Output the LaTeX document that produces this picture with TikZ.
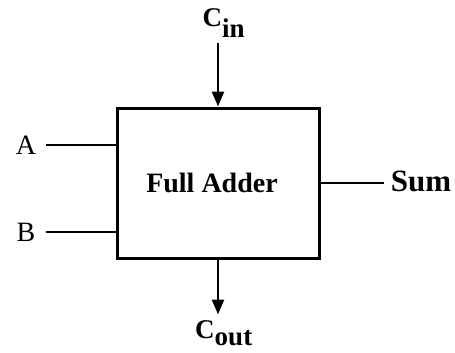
\documentclass[tikz,border=0pt]{standalone}
\usepackage{fontspec}
\setmainfont{Liberation Serif}
\usetikzlibrary{arrows.meta}

\begin{document}
\begin{tikzpicture}[x=1pt, y=-1pt,
    block/.style={draw, line width=3pt, minimum width=202pt, minimum height=150pt, inner sep=0pt, font=\bfseries\fontsize{28}{28}\selectfont},
    port/.style={inner sep=0pt, font=\fontsize{28}{28}\selectfont},
    wire/.style={line width=2.5pt},
    flow/.style={line width=2.5pt, -{Triangle[length=15pt, width=12pt]}}]
        \useasboundingbox (0,0) rectangle (455,353);
        % Nodes
        \node[block] (fa) at (218,183) {Full Adder\hspace*{12pt}};
        \node[port] (a) at (26,145) {A};
        \node[port] (b) at (26,232) {B};
        \node[port, font=\bfseries\fontsize{31}{31}\selectfont] (sum) at (421,181) {Sum};
        \node[port, font=\bfseries\fontsize{27}{27}\selectfont] (cin) at (224,23) {C$_{\textbf{in}}$};
        \node[port, font=\bfseries\fontsize{27}{27}\selectfont] (cout) at (224,333) {C$_{\textbf{out}}$};
        
        % Edges
        \draw[wire] ([xshift=10pt]a.east) -- (a.east -| fa.west);
        \draw[wire] ([xshift=10pt]b.east) -- (b.east -| fa.west);
        \draw[wire] (fa.east) -- ([xshift=63pt]fa.east);
        \draw[flow] ([yshift=63pt]fa.north) -- (fa.north);
        \draw[flow] (fa.south) -- ([yshift=-55pt]fa.south);
\end{tikzpicture}
\end{document}
